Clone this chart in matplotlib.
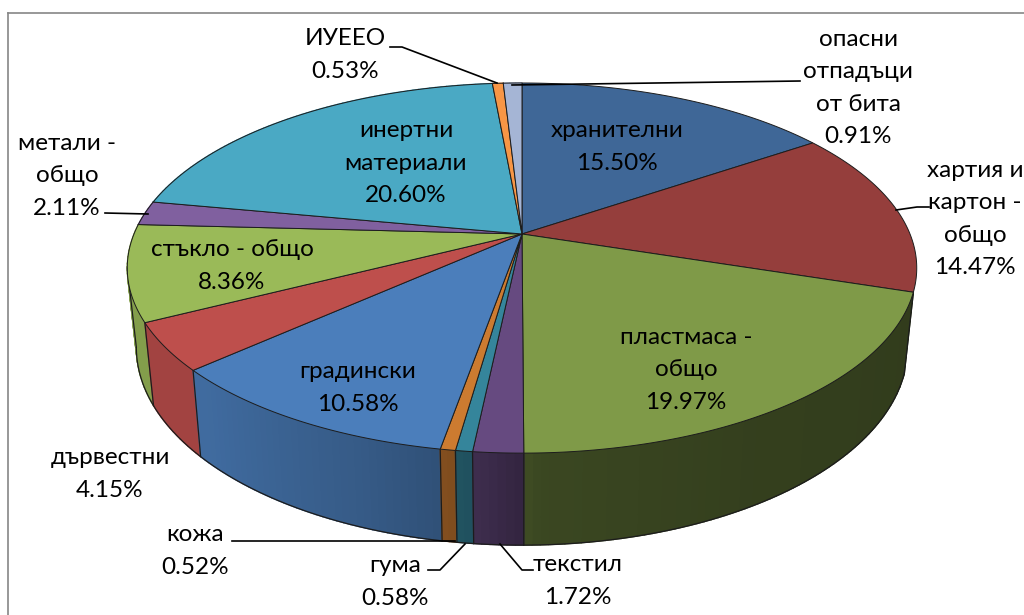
import numpy as np
import matplotlib
matplotlib.use("Agg")
import matplotlib.pyplot as plt
from matplotlib.patches import Polygon

plt.rcParams['font.family'] = ['Lato', 'Open Sans', 'DejaVu Sans']

# slices, clockwise from 12 o'clock
names = ['хранителни', 'хартия и\nкартон -\nобщо', 'пластмаса -\nобщо', 'текстил', 'гума', 'кожа',
         'градински', 'дървестни', 'стъкло - общо', 'метали -\nобщо', 'инертни\nматериали', 'ИУЕЕО',
         'опасни\nотпадъци\nот бита']
values = [15.50, 14.47, 19.97, 1.72, 0.58, 0.52, 10.58, 4.15, 8.36, 2.11, 20.60, 0.53, 0.91]
colors = ['#3F6797', '#953E3C', '#7F9A48', '#664A80', '#35859B', '#CC7B30', '#4B7EBB', '#BE4F4C',
          '#9ABA58', '#80609F', '#4AA9C4', '#F79646', '#A5B5D5']
label_x = [617, 975, 686, 578, 395, 195, 358, 110, 232, 67, 406, 345, 858]
label_y = [147, 219, 370, 581, 582, 551, 388, 474, 266, 176, 163, 55, 88]

# leader lines
leaders = [[(390, 47), (402, 47), (497, 83)],
           [(800, 81), (512, 85)],
           [(105, 213), (148, 214)],
           [(929, 207), (917, 207), (896, 210)],
           [(232, 541), (455, 541)],
           [(428, 570), (440, 570), (465, 544)],
           [(533, 570), (522, 570), (500, 544)]]

# camera of the 3d pie
X0, Y0 = 522, 234
A, B, P = 388, 178.8, 0.184
DEPTH, SQ_X, SQ_Y = 92, 0.977, 0.069

# how dark the side wall gets, by angle
shade_a = [90, 130, 150, 178, 185, 200, 225, 250, 280]
shade_f = [0.38, 0.40, 0.41, 0.46, 0.60, 0.72, 0.85, 0.85, 0.90]


def top(a):
    a = np.radians(a)
    w = 1 + P * np.cos(a)
    return X0 + A * np.sin(a) / w, Y0 - B * np.cos(a) / w


def bottom(a):
    x, y = top(a)
    return X0 + SQ_X * (x - X0), y + DEPTH - (453 - y) * SQ_Y


fig = plt.figure(figsize=(10.24, 6.15), dpi=100)
ax = fig.add_axes([0, 0, 1, 1])
ax.set_xlim(0, 1024)
ax.set_ylim(615, 0)
ax.axis('off')

ax.plot([8, 8], [615, 13], color='#868686', lw=1.2)
ax.plot([8, 1024], [13, 13], color='#868686', lw=1.2)

shares = np.array(values) / sum(values) * 360
edges = np.concatenate([[0], np.cumsum(shares)])
LINE = '#1c1c1c'
left_tan = 360 - np.degrees(np.arccos(-P))

# side wall starts at the plastic slice, far bits first
segs = []
for i in range(2, len(values)):
    n = max(int(shares[i]), 2)
    t = np.linspace(edges[i], edges[i + 1], n + 1)
    for j in range(n):
        segs.append((t[j], t[j + 1], i))
segs.sort(key=lambda s: np.cos(np.radians((s[0] + s[1]) / 2)), reverse=True)
for a0, a1, i in segs:
    f = np.interp((a0 + a1) / 2, shade_a, shade_f)
    c = np.array(matplotlib.colors.to_rgb(colors[i])) * f
    ax.add_patch(Polygon([top(a0), top(a1), bottom(a1), bottom(a0)], closed=True,
                         facecolor=c, edgecolor=c, lw=1.0, zorder=2))

t = np.linspace(edges[2], left_tan, 500)
ax.plot(*bottom(t), color=LINE, lw=0.9, zorder=3)
for a in list(edges[2:-1]) + [left_tan]:
    xa, ya = top(a)
    xb, yb = bottom(a)
    ax.plot([xa, xb], [ya, yb], color=LINE, lw=0.9, zorder=3)

# top face
for i in range(len(values)):
    t = np.linspace(edges[i], edges[i + 1], max(int(shares[i]) * 2, 4))
    xs, ys = top(t)
    pts = [(X0, Y0)] + list(zip(xs, ys))
    ax.add_patch(Polygon(pts, closed=True, facecolor=colors[i], edgecolor=LINE, lw=0.7, zorder=4))

for pts in leaders:
    xs, ys = zip(*pts)
    ax.plot(xs, ys, color='black', lw=1.2, zorder=5)

for i in range(len(values)):
    ax.text(label_x[i], label_y[i], '%s\n%.2f%%' % (names[i], values[i]), ha='center', va='center',
            fontsize=17.5, color='black', linespacing=1.67, zorder=6)

fig.savefig('out.png', dpi=100)
